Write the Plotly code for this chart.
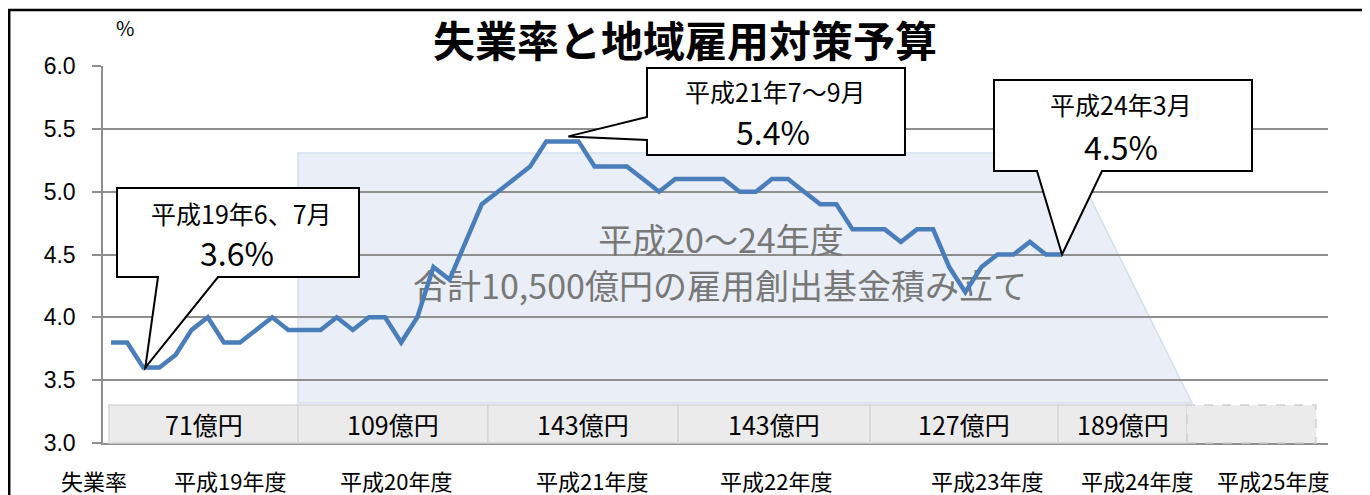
import plotly.graph_objects as go

# ---------------- data ----------------
# monthly unemployment rate (%), 平成19年4月 .. 平成24年3月
rate = [3.8, 3.8, 3.6, 3.6, 3.7, 3.9, 4.0, 3.8, 3.8, 3.9, 4.0, 3.9,
        3.9, 3.9, 4.0, 3.9, 4.0, 4.0, 3.8, 4.0, 4.4, 4.3, 4.6, 4.9,
        5.0, 5.1, 5.2, 5.4, 5.4, 5.4, 5.2, 5.2, 5.2, 5.1, 5.0, 5.1,
        5.1, 5.1, 5.1, 5.0, 5.0, 5.1, 5.1, 5.0, 4.9, 4.9, 4.7, 4.7,
        4.7, 4.6, 4.7, 4.7, 4.4, 4.2, 4.4, 4.5, 4.5, 4.6, 4.5, 4.5]
row_label = "失業率"
fiscal_years = ["平成19年度", "平成20年度", "平成21年度", "平成22年度",
                "平成23年度", "平成24年度", "平成25年度"]
budgets = [71, 109, 143, 143, 127, 189, None]          # 億円
y_ticks = [3.0, 3.5, 4.0, 4.5, 5.0, 5.5, 6.0]
callouts = [  # (month index, value, first line)
    (2, 3.6, "平成19年6、7月"),
    (28, 5.4, "平成21年7〜9月"),
    (59, 4.5, "平成24年3月"),
]
fund_text = ["平成20〜24年度", "合計10,500億円の雇用創出基金積み立て"]
title = "失業率と地域雇用対策予算"

# ---------------- layout geometry (page pixels) ----------------
PAGE_W, PAGE_H = 1370, 495
OFF = 8                      # browser body margin
W_FIG, H_FIG = PAGE_W - OFF, PAGE_H - OFF
L, R, T, B = 103, 1328, 66, 443
NCAT = 76
Y0, Y1 = 3.0, 6.0


def px(X):
    return (X - L) / (R - L)


def py(Y):
    return (B - Y) / (B - T)


def data_px(i, v):
    return (L + (i + 0.5) * (R - L) / NCAT, B - (v - Y0) / (Y1 - Y0) * (B - T))


def px_data(X, Y):
    return ((X - L) / (R - L) * NCAT - 0.5, Y0 + (B - Y) / (B - T) * (Y1 - Y0))


def path(points, close=True):
    s = "M " + " L ".join(f"{px(x):.5f},{py(y):.5f}" for x, y in points)
    return s + (" Z" if close else "")


def note(X, Y, text, size, **kw):
    return dict(xref="paper", yref="paper", x=px(X), y=py(Y), text=text,
                showarrow=False, xanchor="center", yanchor="middle",
                font=dict(family=CJK, size=size, color=kw.get("color", "black")))


CJK = "Noto Sans CJK JP"
GRID = "#8f8f8f"

fig = go.Figure()

# text inside the fund trapezoid (drawn below the line)
fund_pos = [(721, 244), (720, 290)]
tx, ty = zip(*[px_data(X, Y) for X, Y in fund_pos])
fig.add_trace(go.Scatter(
    x=list(tx), y=list(ty), text=fund_text, mode="text",
    textposition="middle center",
    textfont=dict(family=CJK, size=34, color="#787878"),
    hoverinfo="skip", showlegend=False, cliponaxis=False))

fig.add_trace(go.Scatter(
    x=list(range(len(rate))), y=rate, mode="lines",
    line=dict(color="#4a7ebb", width=4.5),
    showlegend=False, hoverinfo="skip"))

shapes = []
# outer frame
shapes.append(dict(type="path", xref="paper", yref="paper",
                   path=path([(9.2, 620), (9.2, 10), (1420, 10)], close=False),
                   line=dict(color="black", width=2.5), layer="above"))
# fund trapezoid
shapes.append(dict(type="path", xref="paper", yref="paper",
                   path=path([(298, 153), (1068, 153), (1192, 403), (298, 403)]),
                   fillcolor="#e9eef7", line=dict(color="#d3dff0", width=1.5),
                   layer="below"))
# budget boxes
edges = [109, 298, 488, 678, 870, 1058, 1187, 1316]
annotations = []
for k, b in enumerate(budgets):
    x0, x1 = edges[k], edges[k + 1]
    shapes.append(dict(type="rect", xref="paper", yref="paper",
                       x0=px(x0), x1=px(x1), y0=py(443), y1=py(405),
                       fillcolor="#ebebeb",
                       line=dict(color="#cfcfcf" if b is None else "#d6d6d6",
                                 width=1.5, dash="dash" if b is None else "solid"),
                       layer="above"))
    if b is not None:
        annotations.append(note((x0 + x1) / 2, 424, f"{b}億円", 25))

# bottom labels
label_x = [94, 230, 396, 592, 776, 987, 1137, 1273]
for X, t in zip(label_x, [row_label] + fiscal_years):
    annotations.append(note(X, 480, t, 22))

# callouts
boxes = [
    dict(box=(117, 188, 359, 277), side="bottom", base=(158, 218), off=(2, 0),
         t1=(241, 213), t2=(237, 252)),
    dict(box=(647, 68, 905, 155), side="left", base=(117, 140), off=(6, -5),
         t1=(775, 91), t2=(773, 131)),
    dict(box=(994, 80, 1252, 171), side="bottom", base=(1037, 1102), off=(0, 0),
         t1=(1121, 104), t2=(1121, 146)),
]
for (idx, val, line1), bx in zip(callouts, boxes):
    tipX, tipY = data_px(idx, val)
    tipX += bx["off"][0]
    tipY += bx["off"][1]
    x0, y0, x1, y1 = bx["box"]
    a, c = bx["base"]
    if bx["side"] == "bottom":
        pts = [(x0, y0), (x1, y0), (x1, y1), (c, y1), (tipX, tipY), (a, y1), (x0, y1)]
    else:
        pts = [(x0, y0), (x1, y0), (x1, y1), (x0, y1), (x0, c), (tipX, tipY), (x0, a)]
    shapes.append(dict(type="path", xref="paper", yref="paper", path=path(pts),
                       fillcolor="white", line=dict(color="black", width=2),
                       layer="above"))
    annotations.append(note(bx["t1"][0], bx["t1"][1], line1, 25))
    annotations.append(note(bx["t2"][0], bx["t2"][1], f"{val:.1f}%", 32))

# unit label
annotations.append(note(125, 28, "%", 20))

fig.update_layout(
    width=W_FIG, height=H_FIG,
    margin=dict(l=L - OFF, r=PAGE_W - R, t=T - OFF, b=PAGE_H - B, pad=0),
    paper_bgcolor="white", plot_bgcolor="white",
    font=dict(family=CJK, color="black"),
    title=dict(text=title, x=(685 - OFF) / W_FIG, y=1 - (42 - OFF) / H_FIG,
               xref="container", yref="container", xanchor="center",
               yanchor="middle",
               font=dict(family=CJK, size=42, color="black", weight=700)),
    xaxis=dict(range=[-0.5, NCAT - 0.5], showgrid=False, zeroline=False,
               showticklabels=False, ticks="", showline=True,
               linecolor=GRID, linewidth=1.5, fixedrange=True),
    yaxis=dict(range=[Y0, Y1], tickvals=y_ticks, tickformat=".1f",
               ticks="outside", ticklen=9, tickwidth=1.5, tickcolor=GRID,
               showgrid=True, gridcolor=GRID, gridwidth=1.5,
               showline=True, linecolor=GRID, linewidth=1.5, zeroline=False,
               ticklabelstandoff=12,
               tickfont=dict(family="Liberation Sans", size=23, color="black")),
    shapes=shapes,
    annotations=annotations,
)

fig.write_html("out.html")
